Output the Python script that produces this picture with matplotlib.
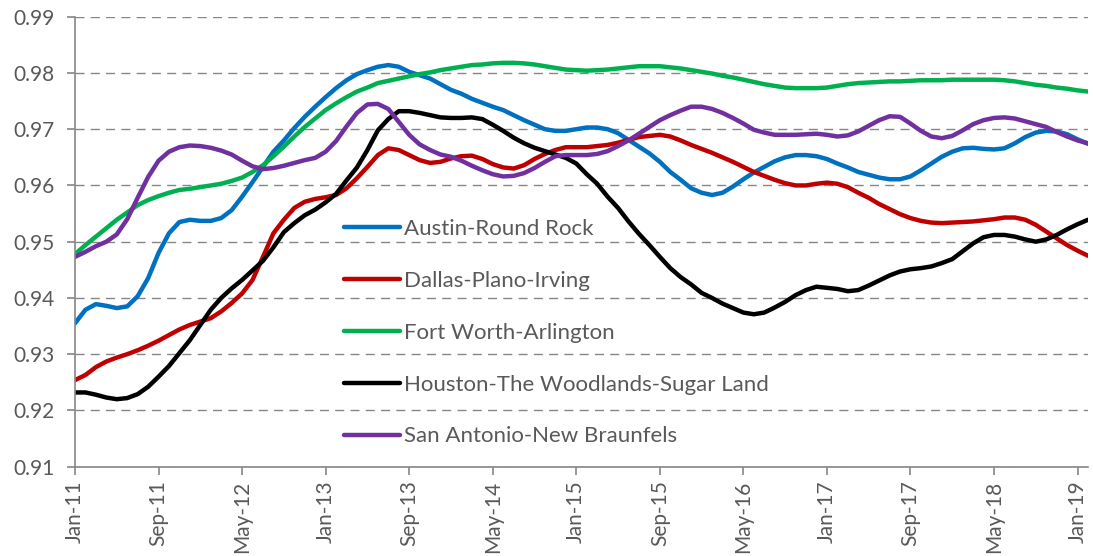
import numpy as np
import pandas as pd
import matplotlib
matplotlib.use("Agg")
import matplotlib.pyplot as plt

plt.rcParams["font.family"] = ["Lato", "DejaVu Sans"]

# monthly, Jan-2011 .. Feb-2019
months = pd.date_range("2011-01-01", periods=98, freq="MS")

austin = [
    0.9355, 0.9379, 0.9389, 0.9386, 0.9382, 0.9385, 0.9403, 0.9435, 0.9480, 0.9515,
    0.9535, 0.9539, 0.9537, 0.9537, 0.9542, 0.9556, 0.9580, 0.9606, 0.9633, 0.9660,
    0.9680, 0.9702, 0.9722, 0.9740, 0.9757, 0.9773, 0.9787, 0.9798, 0.9805, 0.9811,
    0.9814, 0.9811, 0.9802, 0.9796, 0.9790, 0.9780, 0.9770, 0.9763, 0.9754, 0.9747,
    0.9740, 0.9734, 0.9725, 0.9716, 0.9708, 0.9700, 0.9697, 0.9697, 0.9700, 0.9703,
    0.9703, 0.9700, 0.9693, 0.9681, 0.9669, 0.9657, 0.9642, 0.9624, 0.9610, 0.9595,
    0.9587, 0.9583, 0.9587, 0.9598, 0.9611, 0.9623, 0.9633, 0.9643, 0.9650, 0.9654,
    0.9654, 0.9652, 0.9647, 0.9639, 0.9632, 0.9624, 0.9619, 0.9614, 0.9611, 0.9611,
    0.9616, 0.9627, 0.9639, 0.9651, 0.9660, 0.9666, 0.9667, 0.9665, 0.9664, 0.9666,
    0.9675, 0.9686, 0.9694, 0.9697, 0.9696, 0.9691, 0.9682, 0.9674,
]

dallas = [
    0.9254, 0.9263, 0.9277, 0.9287, 0.9294, 0.9300, 0.9307, 0.9315, 0.9324, 0.9334,
    0.9344, 0.9352, 0.9358, 0.9364, 0.9376, 0.9391, 0.9408, 0.9432, 0.9473, 0.9515,
    0.9539, 0.9560, 0.9571, 0.9576, 0.9579, 0.9583, 0.9595, 0.9613, 0.9633, 0.9654,
    0.9666, 0.9663, 0.9654, 0.9645, 0.9640, 0.9642, 0.9648, 0.9652, 0.9653, 0.9647,
    0.9638, 0.9632, 0.9630, 0.9636, 0.9647, 0.9656, 0.9663, 0.9668, 0.9668, 0.9668,
    0.9670, 0.9672, 0.9676, 0.9681, 0.9686, 0.9688, 0.9690, 0.9687, 0.9680, 0.9672,
    0.9665, 0.9658, 0.9650, 0.9642, 0.9633, 0.9624, 0.9617, 0.9610, 0.9604, 0.9600,
    0.9600, 0.9603, 0.9605, 0.9603, 0.9597, 0.9587, 0.9578, 0.9567, 0.9558, 0.9549,
    0.9542, 0.9537, 0.9534, 0.9533, 0.9534, 0.9535, 0.9536, 0.9538, 0.9540, 0.9543,
    0.9543, 0.9539, 0.9530, 0.9518, 0.9506, 0.9494, 0.9484, 0.9475,
]

fort_worth = [
    0.9478, 0.9494, 0.9509, 0.9524, 0.9539, 0.9552, 0.9565, 0.9574, 0.9581, 0.9587,
    0.9592, 0.9594, 0.9597, 0.9600, 0.9603, 0.9608, 0.9614, 0.9624, 0.9636, 0.9652,
    0.9669, 0.9687, 0.9704, 0.9719, 0.9734, 0.9746, 0.9757, 0.9767, 0.9774, 0.9782,
    0.9786, 0.9790, 0.9794, 0.9798, 0.9801, 0.9805, 0.9808, 0.9811, 0.9814, 0.9815,
    0.9817, 0.9818, 0.9818, 0.9817, 0.9815, 0.9812, 0.9809, 0.9806, 0.9805, 0.9804,
    0.9805, 0.9806, 0.9808, 0.9810, 0.9812, 0.9812, 0.9812, 0.9810, 0.9808, 0.9805,
    0.9802, 0.9799, 0.9795, 0.9792, 0.9788, 0.9784, 0.9780, 0.9777, 0.9774, 0.9773,
    0.9773, 0.9773, 0.9774, 0.9777, 0.9780, 0.9782, 0.9783, 0.9784, 0.9785, 0.9785,
    0.9786, 0.9787, 0.9787, 0.9787, 0.9788, 0.9788, 0.9788, 0.9788, 0.9788, 0.9787,
    0.9785, 0.9782, 0.9779, 0.9777, 0.9774, 0.9772, 0.9769, 0.9767,
]

houston = [
    0.9232, 0.9232, 0.9228, 0.9223, 0.9220, 0.9222, 0.9229, 0.9242, 0.9260, 0.9279,
    0.9302, 0.9325, 0.9352, 0.9379, 0.9400, 0.9417, 0.9432, 0.9449, 0.9466, 0.9490,
    0.9517, 0.9533, 0.9547, 0.9557, 0.9570, 0.9585, 0.9609, 0.9632, 0.9663, 0.9698,
    0.9718, 0.9732, 0.9732, 0.9729, 0.9725, 0.9721, 0.9720, 0.9720, 0.9721, 0.9718,
    0.9708, 0.9697, 0.9685, 0.9675, 0.9667, 0.9661, 0.9655, 0.9649, 0.9639, 0.9620,
    0.9603, 0.9580, 0.9560, 0.9536, 0.9514, 0.9494, 0.9473, 0.9453, 0.9437, 0.9424,
    0.9409, 0.9400, 0.9390, 0.9382, 0.9374, 0.9371, 0.9374, 0.9383, 0.9393, 0.9405,
    0.9414, 0.9420, 0.9418, 0.9416, 0.9412, 0.9414, 0.9422, 0.9431, 0.9440, 0.9447,
    0.9451, 0.9453, 0.9456, 0.9462, 0.9469, 0.9483, 0.9497, 0.9508, 0.9512, 0.9512,
    0.9509, 0.9504, 0.9500, 0.9504, 0.9512, 0.9522, 0.9531, 0.9539,
]

san_antonio = [
    0.9473, 0.9482, 0.9492, 0.9500, 0.9513, 0.9540, 0.9578, 0.9615, 0.9644, 0.9660,
    0.9668, 0.9671, 0.9670, 0.9667, 0.9662, 0.9655, 0.9644, 0.9634, 0.9629, 0.9631,
    0.9635, 0.9640, 0.9645, 0.9649, 0.9660, 0.9679, 0.9705, 0.9729, 0.9744, 0.9745,
    0.9736, 0.9713, 0.9690, 0.9673, 0.9663, 0.9655, 0.9651, 0.9644, 0.9635, 0.9627,
    0.9620, 0.9616, 0.9617, 0.9622, 0.9631, 0.9642, 0.9652, 0.9654, 0.9654, 0.9654,
    0.9656, 0.9661, 0.9670, 0.9680, 0.9692, 0.9704, 0.9716, 0.9725, 0.9733, 0.9740,
    0.9740, 0.9736, 0.9729, 0.9720, 0.9710, 0.9699, 0.9694, 0.9690, 0.9690, 0.9690,
    0.9691, 0.9692, 0.9690, 0.9687, 0.9689, 0.9696, 0.9706, 0.9716, 0.9723, 0.9722,
    0.9710, 0.9697, 0.9687, 0.9684, 0.9688, 0.9698, 0.9709, 0.9716, 0.9720, 0.9721,
    0.9719, 0.9714, 0.9709, 0.9704, 0.9695, 0.9687, 0.9680, 0.9675,
]

series = [
    ("Austin-Round Rock", austin, "#0070C0"),
    ("Dallas-Plano-Irving", dallas, "#C00000"),
    ("Fort Worth-Arlington", fort_worth, "#00B050"),
    ("Houston-The Woodlands-Sugar Land", houston, "#000000"),
    ("San Antonio-New Braunfels", san_antonio, "#7030A0"),
]

grey = "#868686"
text_grey = "#595959"

fig = plt.figure(figsize=(10.93, 5.56), dpi=100)
ax = fig.add_axes([75 / 1093, 1 - 466.7 / 556, (1088 - 75) / 1093, 450 / 556])

x = np.arange(len(months))
for name, vals, col in series:
    ax.plot(x, vals, color=col, lw=3.2, label=name, solid_capstyle="round")

ax.set_xlim(0, len(months) - 1)
ax.set_ylim(0.91, 0.99)
ax.set_yticks(np.arange(0.91, 0.9901, 0.01))
ax.set_yticklabels([f"{v:.2f}" for v in np.arange(0.91, 0.9901, 0.01)])

tick_pos = x[::8]
ax.set_xticks(tick_pos)
ax.set_xticklabels([months[i].strftime("%b-%y") for i in tick_pos], rotation=90)

ax.yaxis.grid(True, color=grey, lw=1.0, dashes=(6.5, 4.5))
ax.set_axisbelow(True)
for s in ["top", "right"]:
    ax.spines[s].set_visible(False)
for s in ["left", "bottom"]:
    ax.spines[s].set_color(grey)
    ax.spines[s].set_linewidth(1.2)

ax.tick_params(axis="y", colors=grey, labelcolor=text_grey, labelsize=15,
               length=6, width=1.2, pad=9)
ax.tick_params(axis="x", colors=grey, labelcolor=text_grey, labelsize=15,
               length=6, width=1.2, pad=4)

leg = ax.legend(loc="upper left", bbox_to_anchor=((344 - 75) / 1013, 0.550),
                frameon=False, fontsize=16, handlelength=2.5, handletextpad=0.2,
                labelspacing=1.43, borderpad=0, borderaxespad=0)
for t in leg.get_texts():
    t.set_color(text_grey)

fig.savefig("out.png", dpi=100)
